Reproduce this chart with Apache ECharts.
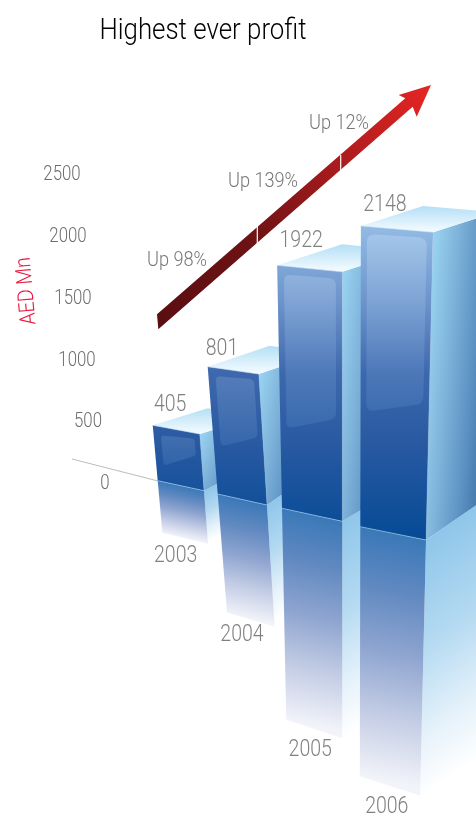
<!DOCTYPE html>
<html>
<head>
<meta charset="utf-8">
<style>html,body{margin:0;padding:0;background:#fff}#chart{width:476px;height:817px}</style>
<script src="https://cdn.jsdelivr.net/npm/echarts@6/dist/echarts.min.js"></script>
</head>
<body>
<div id="chart"></div>
<script>
// Net profit, AED million
const years = ['2003', '2004', '2005', '2006'];
const profit = [405, 801, 1922, 2148];
const growth = ['Up 98%', 'Up 139%', 'Up 12%'];
const axisTicks = [0, 500, 1000, 1500, 2000, 2500];

const FAMILY = 'Roboto,sans-serif';
const GRID = { left: 150, top: 173, width: 280, height: 309 };

// Centre of each axis label: the vertical scale leans with the scene.
const tickCentre = { 0: 105, 500: 88, 1000: 77, 1500: 73, 2000: 68, 2500: 62 };

// Perspective of each column, relative to its category centre and the zero line.
// gain* stretch the axis height per corner, lean* tilt the verticals,
// top/foot are the receding edges, mirror is the length of the floor reflection.
const scene = [
  { dx: -27.3, dy: -1.3, w: 46.3, fall: 10, gainL: 1.107, gainR: 1.133, leanL: -0.09, leanR: -0.076,
    top: [55, -17], foot: [55, -29], mirror: 0.94, value: [17.5, -22], year: [13.3, 21], glow: 0.13,
    pane: { uL: 0.16, uR: 0.88, vTL: 0.157, vTR: 0.10, vBL: 0.70, vBR: 0.40, r: 3 } },
  { dx: -37.3, dy: 12, w: 49.3, fall: 11, gainL: 1.286, gainR: 1.323, leanL: -0.0786, leanR: -0.063,
    top: [62, -21], foot: [60, -42], mirror: 0.93, value: [14.3, -20], year: [15, 21], glow: 0.15,
    pane: { uL: 0.14, uR: 0.90, vTL: 0.065, vTR: 0.045, vBL: 0.615, vBR: 0.49, r: 5 } },
  { dx: -43, dy: 26.3, w: 60.3, fall: 13, gainL: 1.023, gainR: 1.05, leanL: -0.02, leanR: 0,
    top: [65, -21], foot: [65, -39], mirror: 0.87, value: [24, -26], year: [24, 28], glow: 0.2,
    pane: { uL: 0.10, uR: 0.90, vTL: 0.035, vTR: 0.03, vBL: 0.667, vBR: 0.594, r: 7 } },
  { dx: -34.7, dy: 44.7, w: 65.7, fall: 13.3, gainL: 1.133, gainR: 1.159, leanL: 0.002, leanR: 0.023,
    top: [62, -20], foot: [62, -43], mirror: 0.83, value: [24, -23], year: [27, 29], glow: 0.26,
    pane: { uL: 0.085, uR: 0.915, vTL: 0.025, vTR: 0.02, vBL: 0.614, vBR: 0.561, r: 8 } }
];

const grad = (x1, y1, x2, y2, stops) => new echarts.graphic.LinearGradient(
  x1, y1, x2, y2, stops.map(s => ({ offset: s[0], color: s[1] })), true);

// Condensed light lettering: the face is narrowed horizontally around its anchor.
const lettering = (text, x, y, size, fill, scaleX, rotation) => ({
  type: 'text', x, y: y + 2, scaleX, scaleY: 1, rotation: rotation || 0,
  style: { text, x: 0, y: 0, fill, font: `300 ${size}px ${FAMILY}`, align: 'center', verticalAlign: 'middle' }
});

// Gradient that fades along the normal of a floor edge, so bands stay parallel to it.
function floorFade(p, edge, drop, stops) {
  const len = Math.hypot(edge[0], edge[1]) || 1;
  let nx = -edge[1] / len, ny = edge[0] / len;
  if (ny < 0) { nx = -nx; ny = -ny; }
  const d = drop * ny;
  return grad(p[0], p[1], p[0] + nx * d, p[1] + ny * d, stops);
}

// Polygon with softened corners, sampled as quadratic curves.
function rounded(pts, r) {
  const out = [];
  pts.forEach((p, i) => {
    const a = pts[(i + pts.length - 1) % pts.length], b = pts[(i + 1) % pts.length];
    const la = Math.hypot(a[0] - p[0], a[1] - p[1]), lb = Math.hypot(b[0] - p[0], b[1] - p[1]);
    const s = [p[0] + (a[0] - p[0]) * r / la, p[1] + (a[1] - p[1]) * r / la];
    const e = [p[0] + (b[0] - p[0]) * r / lb, p[1] + (b[1] - p[1]) * r / lb];
    for (let t = 0; t <= 1.001; t += 0.2) {
      const m = 1 - t;
      out.push([m * m * s[0] + 2 * m * t * p[0] + t * t * e[0], m * m * s[1] + 2 * m * t * p[1] + t * t * e[1]]);
    }
  });
  return out;
}

const poly = (points, fill) => ({ type: 'polygon', shape: { points }, style: { fill } });
const edge = (a, b, stroke, lineWidth) => ({
  type: 'line', shape: { x1: a[0], y1: a[1], x2: b[0], y2: b[1] }, style: { stroke, lineWidth: lineWidth || 0.8 }
});

// Side shading: mostly across the face, a little down it, whatever the column's height.
function sideShade(tr, height) {
  const a = 0.0139, b = 0.35 / height, k = a * a + b * b;
  return grad(tr[0], tr[1], tr[0] + a / k, tr[1] + b / k, [
    [0, '#9ad4f2'], [0.35, '#7fb3da'], [0.7, '#5b91c3'], [1, '#3f70a5']]);
}

function renderColumn(params, api) {
  const i = api.value(0), v = api.value(1), g = scene[i];
  const zero = api.coord([i, 0]);
  const h = zero[1] - api.coord([i, v])[1];

  const bl = [zero[0] + g.dx, zero[1] + g.dy];
  const br = [bl[0] + g.w, bl[1] + g.fall];
  const hL = h * g.gainL, hR = h * g.gainR;
  const tl = [bl[0] + g.leanL * hL, bl[1] - hL];
  const tr = [br[0] + g.leanR * hR, br[1] - hR];
  const tlBack = [tl[0] + g.top[0], tl[1] + g.top[1]];
  const trBack = [tr[0] + g.top[0], tr[1] + g.top[1]];
  const brBack = [br[0] + g.foot[0], br[1] + g.foot[1]];

  const rL = hL * g.mirror, rR = hR * g.mirror;
  const blM = [bl[0] - g.leanL * rL, bl[1] + rL];
  const brM = [br[0] - g.leanR * rR, br[1] + rR];
  const backM = [brBack[0] - g.leanR * rR, brBack[1] + rR];

  // Point on the front face from its left/right and top/bottom fractions
  const onFace = (u, t) => {
    const a = [tl[0] + (tr[0] - tl[0]) * u, tl[1] + (tr[1] - tl[1]) * u];
    const b = [bl[0] + (br[0] - bl[0]) * u, bl[1] + (br[1] - bl[1]) * u];
    return [a[0] + (b[0] - a[0]) * t, a[1] + (b[1] - a[1]) * t];
  };
  const p = g.pane;
  const pane = [onFace(p.uL, p.vTL), onFace(p.uR, p.vTR), onFace(p.uR, p.vBR), onFace(p.uL, p.vBL)];
  const paneTop = Math.min(pane[0][1], pane[1][1]), paneBottom = Math.max(pane[2][1], pane[3][1]);

  const baseY = api.coord([0, 0])[1];
  const children = [
    // floor reflection, side then front
    poly([br, brBack, backM, brM], floorFade(br, g.foot, rR, [
      [0, '#8fc6ea'], [0.4, '#b3d9f1'], [0.75, '#e4f1fa'], [1, '#ffffff']])),
    poly([bl, br, brM, blM], floorFade(bl, [g.w, g.fall], rL, [
      [0, '#3a78b8'], [0.22, '#5f88c0'], [0.48, '#8fa5d0'], [0.72, '#c0cae3'], [1, '#f3f4fa']])),
    // receding side
    poly([tr, trBack, brBack, br], sideShade(tr, hR)),
    // top
    poly([tl, tr, trBack, tlBack], grad(0, tlBack[1], 0, tr[1], [[0, '#b4dff6'], [1, '#f6fcff']])),
    // front, shaded on one shared vertical ramp across all columns
    poly([tl, tr, br, bl], grad(0, baseY - 256, 0, baseY + 58, [
      [0, '#93bbe4'], [0.25, '#6b92ca'], [0.47, '#3d68ad'], [0.68, '#2a5aa2'], [1, '#054a96']])),
    // inner glass panel
    poly(rounded(pane, p.r), grad(0, paneTop, 0, paneBottom, [
      [0, `rgba(225,240,255,${g.glow})`], [1, 'rgba(130,185,235,0.14)']])),
    // bright rims
    edge(bl, br, 'rgba(170,205,235,0.8)'),
    edge(tl, tr, 'rgba(200,225,245,0.8)'),
    edge(tr, br, 'rgba(170,210,240,0.3)'),
    lettering(String(v), tl[0] + g.value[0], tl[1] + g.value[1], 23.5, '#808080', 0.83),
    lettering(years[i], blM[0] + g.year[0], blM[1] + g.year[1], 23.5, '#808080', 0.83)
  ];
  return { type: 'group', children };
}

// Axis labels follow the value axis vertically and the leaning scale horizontally.
function renderTick(params, api) {
  const t = api.value(1);
  return lettering(String(t), tickCentre[t], api.coord([0, t])[1], 21, '#6e6e6e', 0.8);
}

const growthPos = [[177, 259], [263, 180], [339, 122]];

const arrowFill = grad(157, 322, 431, 85, [[0, '#5a0e10'], [0.37, '#701315'], [0.68, '#ad1c1e'], [1, '#e62522']]);

const option = {
  animation: false,
  backgroundColor: '#fff',
  grid: GRID,
  xAxis: { type: 'category', data: years, show: false },
  yAxis: {
    type: 'value', min: 0, max: 2500, interval: 500,
    axisLine: { show: false }, axisTick: { show: false }, splitLine: { show: false }, axisLabel: { show: false }
  },
  graphic: [
    lettering('Highest ever profit', 203, 29.5, 30, '#000', 0.862),
    lettering('AED Mn', 27, 289, 22, '#e8173f', 0.88, 95 * Math.PI / 180),
    { type: 'line', shape: { x1: 72, y1: 459, x2: 158, y2: 481 }, style: { stroke: '#bdbdbd', lineWidth: 1 } },
    { type: 'polygon', shape: { points: [[157, 314.3], [405.3, 98.3], [398.7, 95], [431, 85], [416.7, 116.7], [412.7, 106.7], [158.3, 329.3]] },
      style: { fill: arrowFill } },
    { type: 'line', shape: { x1: 257.3, y1: 226, x2: 257.3, y2: 244 }, style: { stroke: '#fff', lineWidth: 1.2 } },
    { type: 'line', shape: { x1: 340.7, y1: 155, x2: 340.7, y2: 172 }, style: { stroke: '#fff', lineWidth: 1.2 } }
  ].concat(growth.map((t, i) => lettering(t, growthPos[i][0], growthPos[i][1], 21, '#777777', 0.865))),
  series: [{
    type: 'custom',
    renderItem: renderColumn,
    encode: { x: 0, y: 1 },
    data: profit.map((v, i) => [i, v])
  }, {
    type: 'custom',
    renderItem: renderTick,
    encode: { x: 0, y: 1 },
    data: axisTicks.map(t => [0, t])
  }]
};

echarts.init(document.getElementById('chart'), null, { renderer: 'canvas' }).setOption(option);
</script>
</body>
</html>
